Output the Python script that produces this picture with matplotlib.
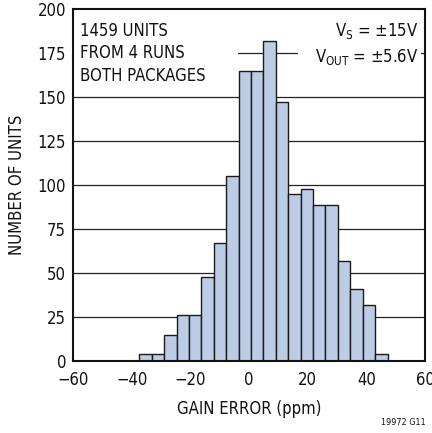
import matplotlib as mpl
mpl.use('Agg')
import matplotlib.pyplot as plt
from matplotlib.patches import Rectangle
import numpy as np

mpl.rcParams['font.family'] = ['DejaVu Sans']
mpl.rcParams['font.stretch'] = 'condensed'
mpl.rcParams['mathtext.fontset'] = 'custom'
mpl.rcParams['mathtext.rm'] = 'DejaVu Sans:stretch=condensed'
mpl.rcParams['mathtext.default'] = 'regular'
mpl.rcParams['axes.unicode_minus'] = True

bar_color = '#bccce4'
edge_color = '#1a1a1a'

# histogram: 20 bins of gain error (ppm)
bin_lo = -37.4
bin_hi = 47.2
counts = [4, 4, 15, 26, 26, 48, 67, 105, 165, 165,
          182, 147, 95, 98, 89, 89, 57, 41, 32, 4]
xticks = [-60, -40, -20, 0, 20, 40, 60]
yticks = [0, 25, 50, 75, 100, 125, 150, 175, 200]

edges = np.linspace(bin_lo, bin_hi, len(counts) + 1)

f = plt.figure(figsize=(4.32, 4.33), dpi=100)
ax = f.add_axes([0.169, 0.1656, 0.815, 0.8136])

ax.bar(edges[:-1], counts, width=np.diff(edges), align='edge',
       color=bar_color, edgecolor=edge_color, linewidth=1.0, zorder=2)

for y in yticks[1:-1]:
    ax.axhline(y, color='#222222', linewidth=0.9, zorder=0)

# white areas behind the notes
ax.add_patch(Rectangle((-60, 160), 56.3, 40, facecolor='white', edgecolor='none', zorder=1))
ax.add_patch(Rectangle((16.7, 160), 41.9, 40, facecolor='white', edgecolor='none', zorder=1))

ax.set_xlim(-60, 60)
ax.set_ylim(0, 200)
ax.set_xticks(xticks)
ax.set_yticks(yticks)
ax.tick_params(length=0, labelsize=12, colors='#111111')
ax.tick_params(axis='x', pad=7)
ax.tick_params(axis='y', pad=5)
for s in ax.spines.values():
    s.set_linewidth(1.5)
    s.set_color('#111111')

ax.set_xlabel('GAIN ERROR (ppm)', fontsize=12, color='#111111', labelpad=8)
ax.set_ylabel('NUMBER OF UNITS', fontsize=12, color='#111111', labelpad=8)

ax.text(-57.6, 192.8, '1459 UNITS\nFROM 4 RUNS\nBOTH PACKAGES', fontsize=12,
        color='#111111', va='top', ha='left', linespacing=1.33, zorder=3)
ax.text(57.6, 187.5, r'V$_{S}$ = ±15V', fontsize=12, color='#111111',
        va='center', ha='right', zorder=3)
ax.text(57.6, 173, r'V$_{OUT}$ = ±5.6V', fontsize=12, color='#111111',
        va='center', ha='right', zorder=3)

f.text(0.985, 0.015, '19972 G11', fontsize=6.5, color='#111111', ha='right', va='bottom')

f.savefig('out.png', dpi=100)
